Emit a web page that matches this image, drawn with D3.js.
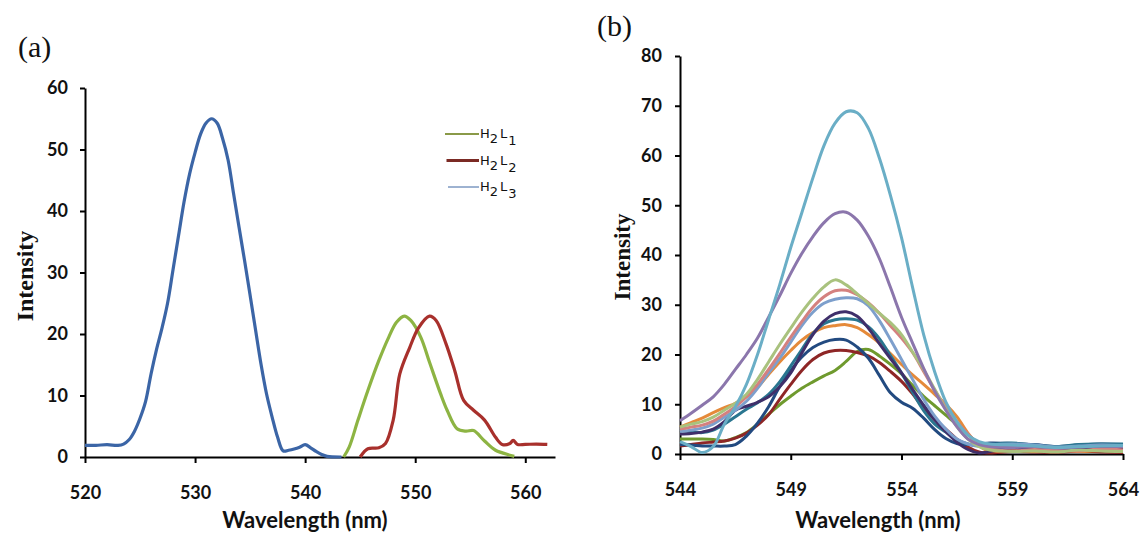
<!DOCTYPE html>
<html><head><meta charset="utf-8">
<script src="https://cdn.jsdelivr.net/npm/d3@7"></script>
<style>body{margin:0;background:#fff}svg{display:block}</style>
</head><body>
<script>
// ---------- Panel (a) data ----------
const wlA_L1 = [543.5,544,544.8,545.7,546.7,547.6,548.3,549,549.6,550.5,551.3,552.3,552.9,553.8,554.6,555.3,556.3,557.3,558.6,559];
const intA_L1 = [0,1.6,6,10.8,15.7,19.5,21.9,22.9,22.2,19.5,15.4,10.3,7.6,4.6,4.2,4.3,2.6,1.1,0.3,0.1];
const wlA_L2 = [545,545.7,546.7,547.3,548,548.6,549.5,550.3,551.3,551.9,552.8,553.6,554.4,555.3,556.3,557.3,557.9,558.6,558.9,559.3,560,561,562];
const intA_L2 = [0,1.35,1.5,2.2,6,13.5,17.8,21,22.9,22.2,18.4,14,9.2,7.6,6,3.2,2.05,2.2,2.7,2.05,2.05,2.1,2.05];
const wlA_L3 = [520,521,522,523,523.5,524,524.5,525,525.5,526,526.5,527,527.5,528,528.5,529,529.5,530,530.5,531,531.5,532,532.5,533,533.5,534,534.5,535,535.5,536,536.5,537,537.5,538,538.5,539,539.5,540,540.5,541,541.5,542,543.3];
const intA_L3 = [1.9,1.9,2,1.9,2.1,2.8,4.2,6.3,9,13.5,17.5,21,25,30.5,36,41.5,46,49.5,52.5,54.3,55,54.3,51.8,48.3,42.8,37.3,31.9,26.3,20.6,15,10.2,6.5,3.2,1,1.1,1.3,1.6,2,1.5,0.9,0.4,0.1,0];
const legendA = ["H2L1","H2L2","H2L3"];
const ticksAx = [520,530,540,550,560];
const ticksAy = [0,10,20,30,40,50,60];

// ---------- Panel (b) data ----------
const wlB = [544,544.5,545,545.5,546,546.5,547,547.5,548,548.5,549,549.5,550,550.5,551,551.5,552,552.5,553,553.5,554,554.5,555,555.5,556,556.5,557,557.5,558,559,560,561,562,563,564];
const sB1 = [2.5,1.5,0.3,1.5,6,9.5,14,20,27,34,41.5,48.5,55.5,62,66.5,68.8,68.6,65.5,59.5,52,43.5,33.5,24,16.5,10.5,6.5,3.8,2.5,2,1.8,1.6,1.3,1.5,1.6,1.7];
const sB2 = [6.7,8.2,9.8,11.5,14,17,20,23.3,27.5,31.8,36.3,40.3,43.7,46.5,48.3,48.6,47,43.8,39.3,33.5,27.5,22.3,17.2,12.6,8.8,5.5,3,1.9,1.5,1.3,1.5,1.2,1.4,1.6,1.5];
const sB3 = [5.4,6,6.5,7.4,8.8,10.2,12,15,18.5,22,25.3,28.5,31.3,33.6,35,34,32.2,30.3,28.3,26.4,24,20.5,17,13,9,5.5,3,1.5,0.8,0.5,0.6,0.4,0.8,0.6,0.5];
const sB4 = [5,5.4,5.8,6.6,8,9.5,11.5,14,17,20.2,23.5,26.6,29.5,31.6,32.8,32.9,32,30.4,28.3,25.8,23.3,20.4,16.6,12.8,9.5,6.5,4,2,1,0.6,0.9,0.7,0.6,1,0.8];
const sB5 = [4.5,4.8,5.2,6,7.4,8.8,10.6,13.2,16.3,19.2,22.5,25.8,28.5,30.3,31.1,31.4,31.2,29.8,26.8,23,19,15,11,7.6,5,3,2,1.6,1.8,2,1.8,1.4,1.6,1.8,1.7];
const sB6 = [4,4.1,4.4,5,6.5,8.8,9.6,10.4,11.5,13.5,16.3,20.3,24,26.7,28.2,28.6,27.7,25.3,22.2,19.2,16.3,13,9.8,6.9,4.5,2.4,0.9,0.2,0.5,1.2,1,0.8,1.3,1.1,1];
const sB7 = [4.7,4.5,4.3,4.8,6,7.5,9,10.3,12,14.5,17.7,21,24.2,26.2,27,27.2,26.9,25.6,23.2,19.8,16.3,12.4,8.7,6,4.4,2.9,2,1.6,1.9,2.2,1.8,1.5,1.9,2,2];
const sB8 = [5.4,6.3,7.2,8.3,9.3,10.2,11.5,13.4,16,18.5,20.8,22.9,24.4,25.4,25.8,26,25.4,24,22.3,20.2,18,15.9,14,12,10,7.5,4.2,1.6,0.6,0.8,0.5,0.9,0.5,0.7,0.6];
const sB9 = [1.9,1.8,1.6,1.6,1.6,1.9,3.6,6.2,9.5,13.5,16.8,19.5,21.4,22.5,23,22.9,21.5,19.3,15.8,12.3,10.4,9.2,7.2,4.9,3.1,2.1,1.9,2,2.2,2.1,1.9,1.5,1.8,2,1.9];
const sB10 = [1.6,1.9,2.2,2.4,2.6,3.2,4.2,5.8,7.9,11,14,16.8,19,20.3,20.8,20.8,20.4,19.7,18.4,16.6,14.6,12.1,9.2,6.9,5,3,1.4,0.4,0.2,0.5,0.4,0.3,0.6,0.4,0.3];
const sB11 = [3,3,3,2.9,2.6,3.3,4.3,6,8,9.9,11.6,13.2,14.5,15.7,16.8,18.6,20.6,21,19.7,18,16.1,13.8,11.6,9.7,7.8,5.9,3.9,2.1,1.1,0.7,0.6,0.8,0.5,0.7,0.6];
const ticksBx = [544,549,554,559,564];
const ticksBy = [0,10,20,30,40,50,60,70,80];

const colorsA = {"H2L1":"#8db443","H2L2":"#a8302c","H2L3":"#3b65a6"};
const seriesB = [
  {v:sB11,c:"#6f9a2e"},{v:sB10,c:"#8e2626"},{v:sB9,c:"#224a80"},{v:sB8,c:"#e58a3a"},
  {v:sB7,c:"#2a7690"},{v:sB6,c:"#3f2f6a"},{v:sB5,c:"#7d9fcc"},{v:sB4,c:"#d4817f"},
  {v:sB3,c:"#a9c27e"},{v:sB2,c:"#8b76ac"},{v:sB1,c:"#6aaec6"}
];

const W=1140,H=536;
const svg=d3.select("body").append("svg").attr("width",W).attr("height",H);
svg.append("rect").attr("width",W).attr("height",H).attr("fill","#fff");

const tickFont="Lato, 'Open Sans', sans-serif";

function styleAxis(g){
  g.selectAll("path.domain").attr("stroke","#000").attr("stroke-width",2);
  g.selectAll(".tick line").attr("stroke","#000").attr("stroke-width",2);
  g.selectAll(".tick text").attr("font-family",tickFont).attr("font-weight","bold").attr("font-size",18).attr("fill","#111");
}

// ---------- Panel (a) ----------
const xA=d3.scaleLinear().domain([520,562.7]).range([85,555]);
const yA=d3.scaleLinear().domain([0,60]).range([457,88]);
const gAx=svg.append("g").attr("transform",`translate(0,${yA(0)})`)
  .call(d3.axisBottom(xA).tickValues(ticksAx).tickSize(6).tickSizeOuter(0).tickPadding(23));
styleAxis(gAx);
const gAy=svg.append("g").attr("transform",`translate(${xA(520)},0)`)
  .call(d3.axisLeft(yA).tickValues(ticksAy).tickSize(5).tickSizeOuter(0).tickPadding(12));
styleAxis(gAy);

const lineA=d3.line().x(d=>xA(d[0])).y(d=>yA(d[1])).curve(d3.curveCatmullRom.alpha(0.5));
[[wlA_L1,intA_L1,"H2L1"],[wlA_L2,intA_L2,"H2L2"],[wlA_L3,intA_L3,"H2L3"]].forEach(([w,v,k])=>{
  svg.append("path").datum(d3.zip(w,v)).attr("d",lineA).attr("fill","none")
    .attr("stroke",colorsA[k]).attr("stroke-width",3.2).attr("stroke-linejoin","round");
});

// legend (a)
const legColors=["#8a9a48","#7b2a24","#3d66a3"];
const legWidths=[2,3,1];
legendA.forEach((k,i)=>{
  const yy=134+i*26.5;
  svg.append("line").attr("x1",445+i*1.5).attr("x2",479).attr("y1",yy).attr("y2",yy)
    .attr("stroke",legColors[i]).attr("stroke-width",legWidths[i]);
  const t=svg.append("text").attr("x",480).attr("y",yy+4).attr("font-family","'DejaVu Sans', sans-serif")
    .attr("font-size",13).attr("fill","#111");
  t.append("tspan").text("H");
  t.append("tspan").attr("dy",5).text(k[1]);
  t.append("tspan").attr("dy",-5).attr("dx",2).text("L");
  t.append("tspan").attr("dy",7).attr("dx",1).text(k[3]);
});

svg.append("text").attr("x",18).attr("y",57).attr("font-family","'Liberation Serif', serif")
  .attr("font-size",30).attr("fill","#111").text("(a)");
svg.append("text").attr("transform","translate(33,276) rotate(-90)").attr("text-anchor","middle")
  .attr("font-family","'Liberation Serif', serif").attr("font-weight","bold").attr("font-size",24).attr("fill","#111").text("Intensity");
svg.append("text").attr("x",305).attr("y",528).attr("text-anchor","middle").attr("font-family",tickFont)
  .attr("font-weight","bold").attr("font-size",22).attr("fill","#111").text("Wavelength (nm)");

// ---------- Panel (b) ----------
const xB=d3.scaleLinear().domain([544,564]).range([680,1123]);
const yB=d3.scaleLinear().domain([0,80]).range([454,56]);
const gBx=svg.append("g").attr("transform",`translate(0,${yB(0)})`)
  .call(d3.axisBottom(xB).tickValues(ticksBx).tickSize(6).tickSizeOuter(0).tickPadding(23));
styleAxis(gBx);
const gBy=svg.append("g").attr("transform",`translate(${xB(544)},0)`)
  .call(d3.axisLeft(yB).tickValues(ticksBy).tickSize(5).tickSizeOuter(0).tickPadding(13));
styleAxis(gBy);

const lineB=d3.line().x(d=>xB(d[0])).y(d=>yB(d[1])).curve(d3.curveCatmullRom.alpha(0.5));
seriesB.forEach(s=>{
  svg.append("path").datum(d3.zip(wlB,s.v)).attr("d",lineB).attr("fill","none")
    .attr("stroke",s.c).attr("stroke-width",3).attr("stroke-linejoin","round");
});

svg.append("text").attr("x",597).attr("y",36).attr("font-family","'Liberation Serif', serif")
  .attr("font-size",30).attr("fill","#111").text("(b)");
svg.append("text").attr("transform","translate(630,257) rotate(-90)").attr("text-anchor","middle")
  .attr("font-family","'Liberation Serif', serif").attr("font-weight","bold").attr("font-size",23).attr("fill","#111").text("Intensity");
svg.append("text").attr("x",878).attr("y",528).attr("text-anchor","middle").attr("font-family",tickFont)
  .attr("font-weight","bold").attr("font-size",22).attr("fill","#111").text("Wavelength (nm)");
</script>
</body></html>
